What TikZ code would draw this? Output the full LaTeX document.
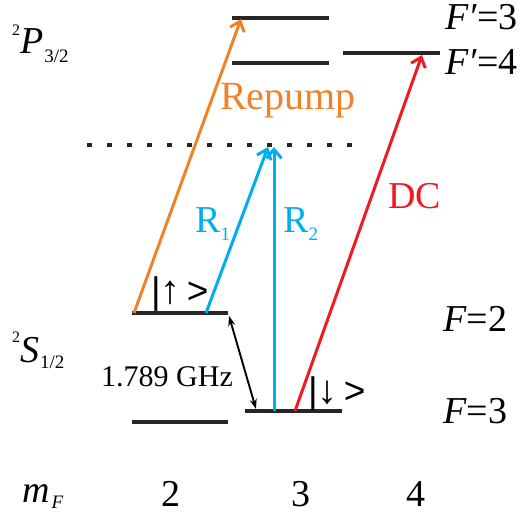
\documentclass[tikz,border=0pt]{standalone}
\usepackage{fontspec}
\setmainfont{Liberation Serif}
\newfontfamily\sansf{Liberation Sans}
\usetikzlibrary{arrows.meta}
\definecolor{orng}{RGB}{240,130,40}
\definecolor{cyanb}{RGB}{0,174,239}
\definecolor{redd}{RGB}{237,28,36}
\newcommand{\lowsub}[2]{\raisebox{-#1}{\fontsize{19}{19}\selectfont #2}}
\newcommand{\highsup}[2]{\raisebox{#1}{\fontsize{16}{16}\selectfont #2}}
\begin{document}
\begin{tikzpicture}[x=1pt,y=-1pt,
  level/.style={line width=3.4pt,black!85},
  laser/.style={line width=3pt,-{Straight Barb[length=9pt,width=15pt]}},
  lbl/.style={anchor=base west,inner sep=0pt,font=\fontsize{38}{40}\selectfont},
  every node/.style={inner sep=0pt}]
\useasboundingbox (0,0) rectangle (520,515);
% levels
\coordinate (p3l) at (232,18); \coordinate (p3r) at (329,18);
\coordinate (p4l) at (232,63); \coordinate (p4r) at (329,63);
\coordinate (q4l) at (343,53); \coordinate (q4r) at (440,53);
\coordinate (vl) at (87,145);  \coordinate (vr) at (352,145);
\coordinate (s2l) at (132,313); \coordinate (s2r) at (228,313);
\coordinate (s3l) at (132,422); \coordinate (s3r) at (228,422);
\coordinate (t3l) at (245,411); \coordinate (t3r) at (342,411);
\draw[level] (p3l) -- (p3r);
\draw[level] (p4l) -- (p4r);
\draw[level] (q4l) -- (q4r);
\draw[level] (s2l) -- (s2r);
\draw[level] (s3l) -- (s3r);
\draw[level] (t3l) -- (t3r);
\draw[line width=3.4pt,black!85,dash pattern=on 5pt off 15pt] (vl) -- (vr);
% laser end points
\coordinate (oS) at (134,313); \coordinate (oE) at (241,19);
\coordinate (r1S) at (206,313); \coordinate (r1E) at (268,147);
\coordinate (r2S) at (274,411); \coordinate (r2E) at (274,147);
\coordinate (dS) at (295,411); \coordinate (dE) at (422,55);
\coordinate (hS) at (229,316); \coordinate (hE) at (256,409);
\draw[laser,orng] (oS) -- (oE);
\draw[laser,cyanb] (r1S) -- (r1E);
\draw[laser,cyanb] (r2S) -- (r2E);
\draw[laser,redd] (dS) -- (dE);
\draw[line width=1.9pt,{Stealth[length=10pt,width=7pt]}-{Stealth[length=10pt,width=7pt]}] (hS) -- (hE);
% labels
\node[lbl,text=orng,font=\fontsize{40}{42}\selectfont] (rep) at (220,109) {Repump};
\node[lbl,text=cyanb] (rr1) at (195,232) {R\lowsub{8pt}{1}};
\node[lbl,text=cyanb] (rr2) at (283,232) {R\lowsub{8pt}{2}};
\node[lbl,text=redd] (dc) at (388,208) {DC};
\node[lbl,font=\fontsize{30}{30}\selectfont] (ghz) at (101,386) {1.789 GHz};
\node[lbl,font=\sansf\fontsize{37}{40}\selectfont] (up) at (151,303) {|{\rmfamily\fontsize{40}{40}\selectfont↑}\,>};
\node[lbl,font=\sansf\fontsize{37}{40}\selectfont] (dn) at (308,403) {|{\rmfamily\fontsize{40}{40}\selectfont↓}\,>};
\node[lbl] (f2) at (443,331) {\textit{F}=2};
\node[lbl] (f3) at (443,423) {\textit{F}=3};
\node[lbl] (fp3) at (445,29) {\textit{F′}=3};
\node[lbl] (fp4) at (445,74) {\textit{F′}=4};
\node[lbl] (p32) at (12,53) {\highsup{18pt}{2}\textit{P}\kern1pt\lowsub{9pt}{3/2}};
\node[lbl] (s12) at (12,362) {\highsup{20pt}{2}\textit{S}\kern1pt\lowsub{6pt}{1/2}};
\node[lbl] (mf) at (22,502) {\textit{m}\kern2pt\lowsub{6pt}{\textit{F}}};
\node[lbl] (m2) at (161,506) {2};
\node[lbl] (m3) at (291,506) {3};
\node[lbl] (m4) at (406,506) {4};
\end{tikzpicture}
\end{document}
